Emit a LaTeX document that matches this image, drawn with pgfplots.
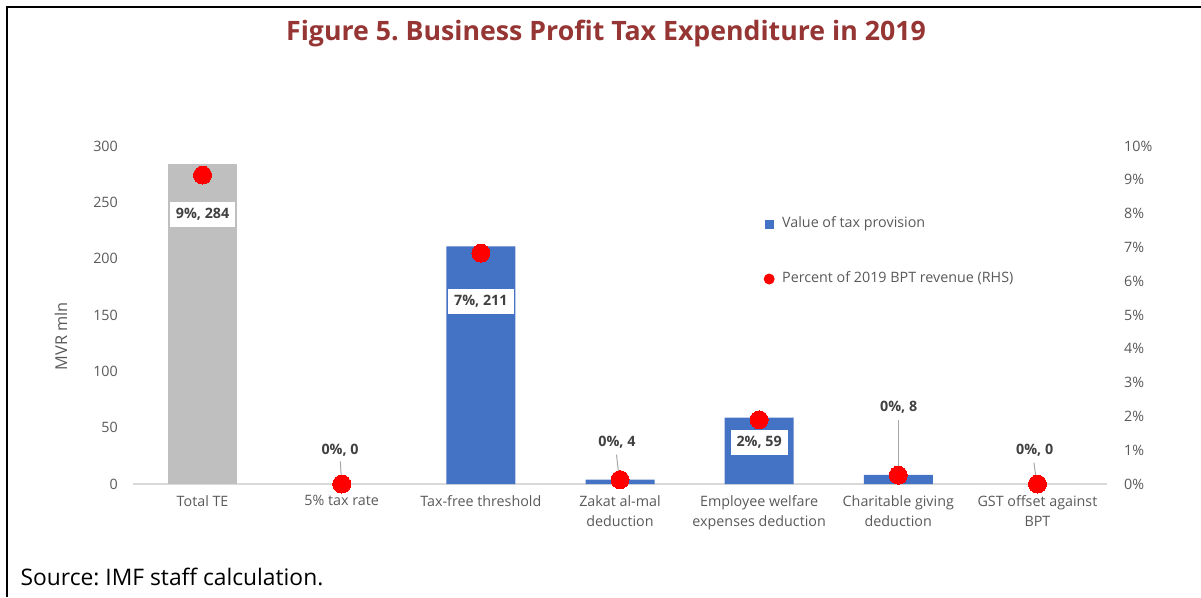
\documentclass[border=0pt]{standalone}
\usepackage{fontspec}
\setmainfont{Open Sans}
\usepackage{pgfplots}
\pgfplotsset{compat=1.18}
\frenchspacing

\definecolor{barblue}{HTML}{4472C4}
\definecolor{bargray}{HTML}{BFBFBF}
\definecolor{titlered}{HTML}{963634}
\definecolor{ticktext}{HTML}{595959}
\definecolor{labeltext}{HTML}{404040}
\definecolor{axisline}{HTML}{D9D9D9}
\definecolor{leader}{HTML}{A6A6A6}

\newcommand{\tickfont}{\fontsize{14.3}{20}\selectfont}
\newcommand{\labfont}{\fontsize{14.3}{17}\selectfont\bfseries}

\begin{document}
\begin{tikzpicture}[x=1pt,y=1pt]
\path[use as bounding box] (0,0) rectangle (1201,-597);
\draw[line width=2pt] (7,-597) -- (7,-6.5) -- (1201,-6.5);

\node[anchor=base, text=titlered, font=\fontsize{26.7}{30}\selectfont\bfseries]
  at (606,-40) {Figure 5. Business Profit Tax Expenditure in 2019};
\node[anchor=base west, inner sep=0pt, font=\fontsize{22.8}{26}\selectfont] at (20.5,-585)
  {Source: IMF staff calculation.};
\node[rotate=90, text=ticktext, font=\fontsize{16.3}{20}\selectfont] at (61,-336) {MVR mln};

% left axis: bars
\begin{axis}[
  at={(133pt,-484pt)}, anchor=south west,
  scale only axis, width=974pt, height=338pt,
  xmin=-0.5, xmax=6.5, ymin=0, ymax=300,
  clip=false,
  axis x line*=bottom, axis y line*=left,
  x axis line style={draw=axisline, line width=1.3pt, -},
  y axis line style={draw=none},
  major tick length=0pt,
  ytick={0,50,...,300},
  yticklabels={0,50,100,150,200,250,300},
  yticklabel style={font=\tickfont, text=ticktext, inner sep=0pt, xshift=-15pt},
  xtick={0,...,6},
  xticklabels={Total TE, 5\% tax rate, Tax-free threshold, Zakat al-mal\\deduction,
    Employee welfare\\expenses deduction, Charitable giving\\deduction, GST offset against\\BPT},
  xticklabel style={font=\tickfont, text=ticktext, align=center, inner sep=0pt, yshift=-11pt},
  legend style={at={(0.6468,0.789)}, anchor=north west, draw=none, fill=none,
    inner sep=0pt, row sep=42pt, font=\tickfont, text=ticktext,
    nodes={inner sep=0pt, text height=10pt, text depth=3pt}},
  legend cell align=left,
  /tikz/every odd column/.append style={column sep=7pt},
]
\addplot[ybar, bar width=69pt, bar shift=0pt, fill=bargray, draw=none, forget plot]
  coordinates {(0,284)};
% the two zero-valued provisions (5% tax rate, GST offset) draw no bar
\addplot[ybar, bar width=69pt, bar shift=0pt, fill=barblue, draw=none,
  legend image code/.code={\path[draw=none, fill=none] (-6pt,-6pt) rectangle (6pt,6pt);
    \fill[barblue, draw=none] (-4.5pt,-4.5pt) rectangle (4.5pt,4.5pt);}]
  coordinates {(2,211) (3,4) (4,59) (5,8)};
\addlegendentry{Value of tax provision}
\addlegendimage{legend image code/.code={\path[draw=none, fill=none] (-6pt,-6pt) rectangle (6pt,6pt);
    \fill[red, draw=none] (0,0) circle (5.5pt);}}
\addlegendentry{Percent of 2019 BPT revenue (RHS)}

% leader lines
\draw[leader, line width=1pt] (axis cs:0.99,20) -- (axis cs:1.0,0);
\draw[leader, line width=1pt] (axis cs:2.975,26) -- (axis cs:2.995,4);
\draw[leader, line width=1pt] (axis cs:5.0,57) -- (axis cs:5.0,5);
\draw[leader, line width=1pt] (axis cs:5.975,19) -- (axis cs:5.995,0);

% data labels
\tikzset{boxlab/.style={fill=white, text=labeltext, font=\labfont,
  inner xsep=6pt, minimum height=25pt}}
\tikzset{freelab/.style={text=labeltext, font=\labfont, inner sep=0pt}}
\node[boxlab] at (axis cs:0,239.2) {9\%, 284};
\node[boxlab] at (axis cs:2,162.4) {7\%, 211};
\node[boxlab] at (axis cs:4,36.8) {2\%, 59};
\node[freelab] at (axis cs:0.988,30.2) {0\%, 0};
\node[freelab] at (axis cs:2.978,37.3) {0\%, 4};
\node[freelab] at (axis cs:5.003,68.3) {0\%, 8};
\node[freelab] at (axis cs:5.98,30.2) {0\%, 0};
\end{axis}

% right axis: percent of revenue
\begin{axis}[
  at={(133pt,-484pt)}, anchor=south west,
  scale only axis, width=974pt, height=338pt,
  xmin=-0.5, xmax=6.5, ymin=0, ymax=10,
  clip=false,
  axis x line=none, axis y line*=right,
  y axis line style={draw=none},
  major tick length=0pt,
  ytick={0,...,10},
  yticklabels={0\%,1\%,2\%,3\%,4\%,5\%,6\%,7\%,8\%,9\%,10\%},
  yticklabel style={font=\tickfont, text=ticktext, inner sep=0pt, xshift=17pt},
]
\addplot[only marks, color=red, mark=*, mark size=9pt, mark options={fill=red, draw=red, line width=0pt}]
  coordinates {(0,9.14) (1,0) (2,6.83) (3,0.13) (4,1.90) (5,0.26) (6,0)};
\end{axis}
\end{tikzpicture}
\end{document}
